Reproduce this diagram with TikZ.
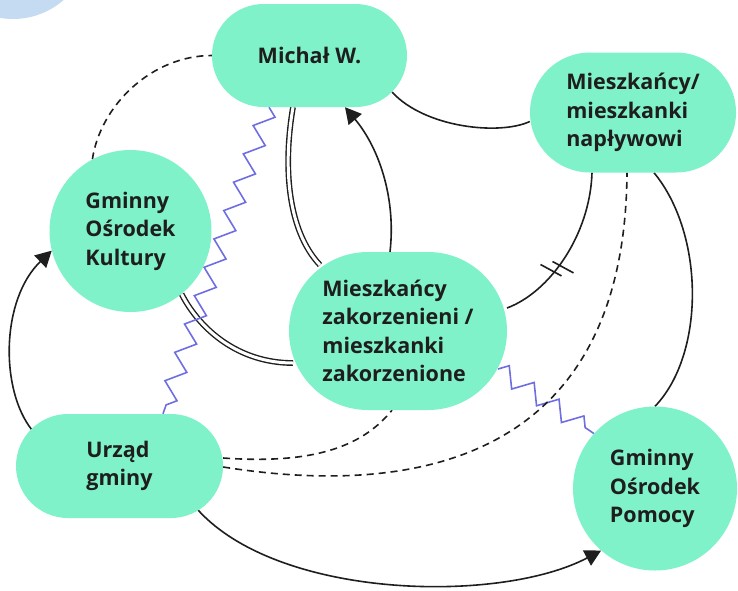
\documentclass[tikz,border=0pt]{standalone}
\usepackage{fontspec}
\setmainfont{Open Sans}
\usetikzlibrary{arrows.meta,calc,backgrounds,decorations.pathmorphing}
\definecolor{mint}{HTML}{80F2CA}
\definecolor{skyblob}{HTML}{C4DBF2}
\definecolor{ink}{HTML}{1E1E1E}
\definecolor{wave}{HTML}{6E6EE2}
\begin{document}
\begin{tikzpicture}[x=1pt,y=-1pt,
  actor/.style={fill=mint, text=ink, align=left, inner sep=0pt,
    font=\fontsize{21.5}{28.5}\selectfont\bfseries},
  pill/.style={actor, rectangle},
  disc/.style={actor, circle},
  link/.style={draw=ink, line width=1.6pt},
  weak/.style={link, dash pattern=on 7pt off 5pt},
  strong/.style={draw=ink, line width=1.4pt, double=white, double distance=3pt},
  tense/.style={draw=wave, line width=1.6pt, decorate,
    decoration={zigzag, segment length=30pt, amplitude=9pt}},
  flow/.style={link, -{Triangle[length=16pt,width=17pt]}}
]
\useasboundingbox (0,0) rectangle (738,590);

% corner blob
\fill[skyblob] (13,-58) circle[radius=77pt];

% actors
\node[pill, minimum width=195pt, minimum height=103pt, rounded corners=51.5pt] (michal) at (309.5,55.5) {Michał W.};
\node[pill, minimum width=206pt, minimum height=120pt, rounded corners=60pt] (naplyw) at (633,112.5) {Mieszkańcy/\\mieszkanki\\napływowi};
\node[disc, minimum size=162pt] (gok) at (130.5,231) {Gminny\\Ośrodek\\Kultury};
\node[pill, minimum width=218pt, minimum height=158pt, rounded corners=79pt] (zak) at (398,331) {Mieszkańcy\\zakorzenieni /\\mieszkanki\\zakorzenione};
\node[pill, minimum width=207pt, minimum height=104pt, rounded corners=52pt] (urzad) at (119.5,466) {Urząd\\gminy};
\node[disc, minimum size=164pt] (gop) at (655,488.5) {Gminny\\Ośrodek\\Pomocy};

% relations
\begin{scope}[on background layer]
  \draw[weak] (gok.118) .. controls +(8,-54) and +(-60,0) .. (michal.west);
  \draw[link] ($(michal.center)+(82.5,36.5)$) .. controls +(33,36) and +(-30,14) .. ($(naplyw.west)+(0,9)$);
  \draw[strong] ($(michal.south)+(-16.5,0)$) .. controls +(-10,58) and +(-33,-35) .. ($(zak.center)+(-78,-66)$);
  \draw[strong] (gok.-51) .. controls +(18,35) and +(-55,0) .. ($(zak.center)+(-105,32)$);
  \draw[flow] ($(zak.north)+(-8,0)$) .. controls +(6,-52) and +(35,42) .. ($(michal.south)+(35.5,0)$);
  \draw[tense] ($(michal.south)+(-40.5,0)$) -- ($(urzad.north)+(43.5,0)$);
  \draw[tense] ($(zak.center)+(100,38)$) -- (gop.138);
  \draw[weak] ($(urzad.east)+(0,-8)$) .. controls +(97,7) and +(-27,33) .. ($(zak.south)+(-6,0)$);
  \draw[weak] ($(urzad.east)+(0,1)$) .. controls +(207,33) and +(-2,277.5) .. ($(naplyw.south)+(-6,0)$);
  \draw[link] ($(naplyw.south)+(-41,0)$) .. controls +(-2,62) and +(43,-16) .. coordinate[pos=0.58] (cut) ($(zak.center)+(109,-23)$);
  % the break marks across that relation
  \draw[link] ($(cut)+(6,-1.5)+(-10.5,-5.7)$) -- ++(21,11.4);
  \draw[link] ($(cut)+(-6,1.5)+(-10.5,-5.7)$) -- ++(21,11.4);
  \draw[link] ($(naplyw.south)+(21,0)$) .. controls +(51,62) and +(50,-52) .. (gop.north);
  \draw[flow] ($(urzad.center)+(78.5,44)$) .. controls +(82,90) and +(-100,53) .. (gop.229);
  \draw[flow] ($(urzad.center)+(-87.5,-36)$) .. controls +(-32,-40) and +(-51,49) .. (gok.194);
\end{scope}
\end{tikzpicture}
\end{document}
